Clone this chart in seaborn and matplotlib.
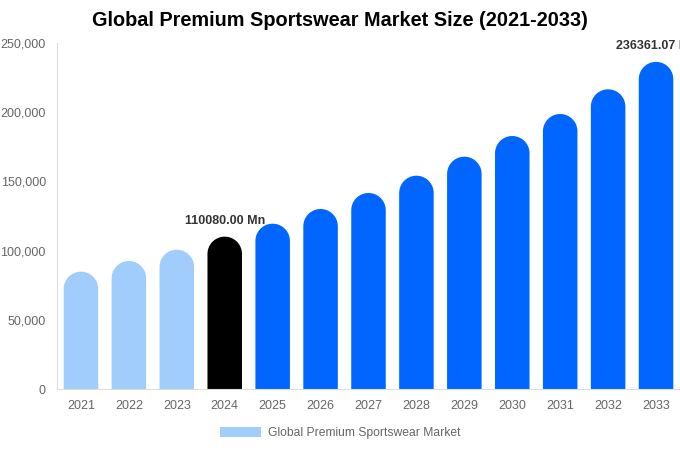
import matplotlib
matplotlib.use("Agg")
import matplotlib.pyplot as plt
import seaborn as sns
import numpy as np
import pandas as pd
from matplotlib.patches import Patch, Polygon
from matplotlib.ticker import FuncFormatter

# datos
anios = ["2021", "2022", "2023", "2024", "2025", "2026", "2027",
         "2028", "2029", "2030", "2031", "2032", "2033"]
valores = [84760, 92490, 100650, 110080, 119440, 130060, 141620,
           154120, 167850, 182800, 198700, 216550, 236361.07]
colores = ["#a0cdfc"] * 3 + ["#000000"] + ["#0066ff"] * 9
etiquetas = {3: "110080.00 Mn", 12: "236361.07 Mn"}
titulo = "Global Premium Sportswear Market Size (2021-2033)"
leyenda = "Global Premium Sportswear Market"

sns.set_theme(style="white")
plt.rcParams["font.family"] = ["Liberation Sans", "DejaVu Sans"]

df = pd.DataFrame({"anio": anios, "valor": valores})

fig = plt.figure(figsize=(6.8, 4.5), dpi=100)
ax = fig.add_axes([57 / 680, 1 - 389 / 450, 623 / 680, 346 / 450])

sns.barplot(data=df, x="anio", y="valor", hue="anio", palette=colores,
            legend=False, width=0.72, saturation=1, linewidth=0,
            edgecolor="none", ax=ax)

ax.set_ylim(0, 250000)
ax.set_xlim(-0.5, len(anios) - 0.5)

# barras con tapa redondeada (se reemplaza cada rectángulo por un polígono)
bbox = ax.get_window_extent()
px_x = bbox.width / len(anios)
px_y = bbox.height / 250000
ang = np.linspace(np.pi, 0, 40)
for i, p in enumerate(list(ax.patches[:len(anios)])):
    x0, w, h = p.get_x(), p.get_width(), p.get_height()
    r_y = (w * px_x / 2) / px_y
    cx, cy = x0 + w / 2, h - r_y
    arco = np.column_stack([cx + w / 2 * np.cos(ang), cy + r_y * np.sin(ang)])
    verts = np.vstack([[x0, 0], arco, [x0 + w, 0]])
    p.set_visible(False)
    ax.add_patch(Polygon(verts, closed=True, facecolor=colores[i],
                         edgecolor="none", linewidth=0))

for i, txt in etiquetas.items():
    ax.text(i, valores[i] + 7000, txt, ha="center", va="bottom",
            fontsize=9, fontweight="bold", color="#333333", clip_on=False)

ax.set_yticks(range(0, 250001, 50000))
ax.yaxis.set_major_formatter(FuncFormatter(lambda v, _: f"{int(v):,}"))
ax.tick_params(axis="both", length=0, labelsize=9, colors="#666666")
ax.tick_params(axis="y", pad=8)
ax.tick_params(axis="x", pad=8)
ax.set_xlabel("")
ax.set_ylabel("")

for lado in ["top", "right"]:
    ax.spines[lado].set_visible(False)
for lado in ["left", "bottom"]:
    ax.spines[lado].set_color("#dddddd")
    ax.spines[lado].set_linewidth(0.8)

fig.text(340 / 680, 1 - 21 / 450, titulo, ha="center", va="center",
         fontsize=14.3, fontweight="bold", color="#000000")

fig.legend(handles=[Patch(facecolor="#a0cdfc", edgecolor="none", label=leyenda)],
           loc="center", bbox_to_anchor=(340 / 680, 1 - 433 / 450),
           frameon=False, fontsize=8.7, labelcolor="#666666",
           handlelength=3.4, handleheight=0.9, handletextpad=0.6)

fig.savefig("out.png", dpi=100)
